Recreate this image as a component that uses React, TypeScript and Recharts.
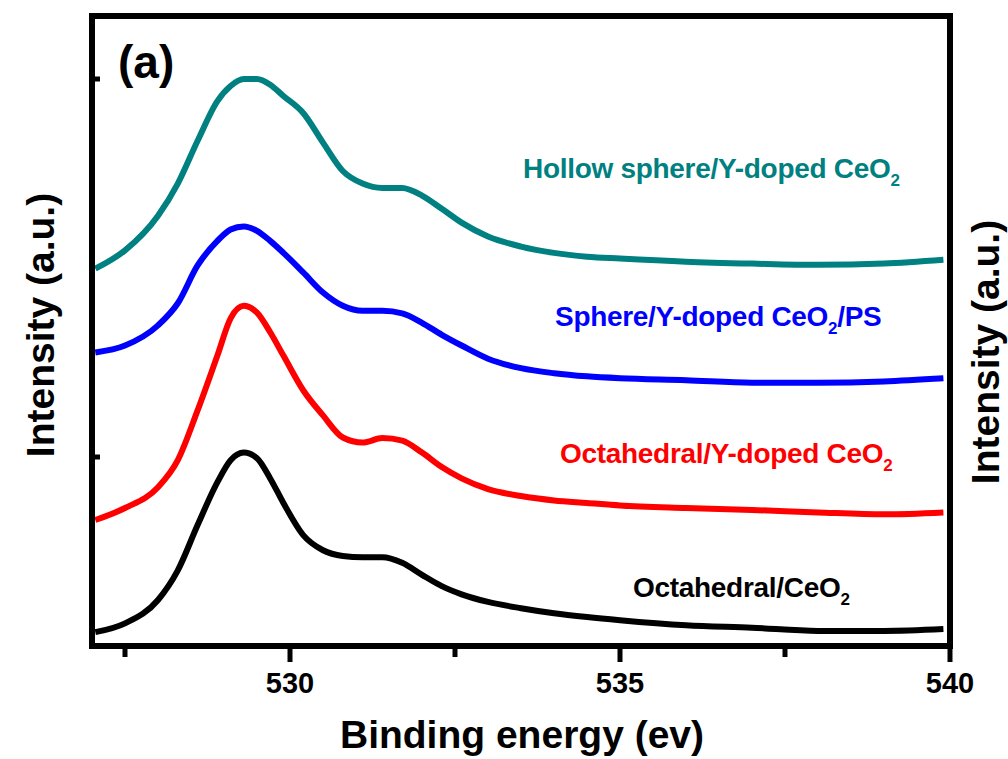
import React from 'react'
import { LineChart, Line, XAxis, YAxis } from 'recharts'

// binding energy (eV) sample points
const energy = [527.05, 527.5, 528.0, 528.3, 528.6, 528.9, 529.1, 529.3, 529.5, 529.7, 529.9, 530.2, 530.5, 530.8, 531.1, 531.4, 531.7, 532.0, 532.3, 532.6, 533.0, 533.5, 534.0, 534.5, 535.0, 536.0, 537.0, 538.0, 539.0, 539.9]

// intensities, stacked (a.u.)
const hollowSphere = [59.9, 62.8, 68.3, 73.4, 80.2, 86.5, 88.9, 90.0, 90.0, 89.1, 87.3, 84.6, 79.9, 75.4, 73.4, 72.7, 72.7, 71.5, 69.4, 67.2, 65.0, 63.4, 62.4, 61.8, 61.5, 61.0, 60.7, 60.5, 60.7, 61.3]
const spherePS = [46.6, 47.7, 50.9, 54.4, 60.4, 64.3, 66.1, 66.6, 65.9, 64.3, 62.4, 59.3, 56.1, 54.0, 53.2, 53.2, 52.8, 51.3, 49.4, 47.7, 45.6, 44.1, 43.3, 42.8, 42.5, 42.2, 41.8, 41.8, 42.0, 42.5]
const octaYDoped = [20.0, 21.9, 25.2, 29.5, 37.4, 46.1, 52.0, 54.0, 52.9, 49.8, 46.1, 40.6, 36.6, 33.1, 32.3, 33.0, 32.6, 30.7, 28.4, 26.6, 24.9, 23.8, 23.1, 22.7, 22.3, 21.9, 21.6, 21.2, 20.9, 21.2]
const octaCeO2 = [2.2, 3.6, 7.3, 12.0, 19.2, 26.0, 29.5, 30.7, 29.8, 26.6, 22.7, 17.6, 15.2, 14.3, 14.1, 14.1, 13.2, 11.3, 9.5, 8.2, 7.0, 6.0, 5.2, 4.6, 4.1, 3.3, 2.9, 2.4, 2.4, 2.7]

const xTicks = [527.5, 530, 532.5, 535, 537.5, 540]
const xLabels = [530, 535, 540]
const yTicks = [30, 90]

const data = energy.map((x, i) => ({
  x,
  hollow: hollowSphere[i],
  sphere: spherePS[i],
  octaY: octaYDoped[i],
  octa: octaCeO2[i],
}))

const FONT = "'Liberation Sans', Arial, Helvetica, sans-serif"

const XTick = (props: any) => {
  const { x, y, payload } = props
  const major = xLabels.includes(payload.value)
  return (
    <g>
      <line x1={x} x2={x} y1={y + 2} y2={y + (major ? 16 : 11)} stroke="#000" strokeWidth={5} />
      {major && (
        <text x={x} y={y + 47} textAnchor="middle" fontFamily={FONT} fontWeight="bold" fontSize={29} fill="#000">
          {payload.value}
        </text>
      )}
    </g>
  )
}

const SeriesLabel: React.FC<{ x: number, y: number, color: string, main: string, rest?: string }> = ({ x, y, color, main, rest }) => (
  <text x={x} y={y} fontFamily={FONT} fontWeight="bold" fontSize={28} fill={color} letterSpacing={-0.3}>
    {main}
    <tspan fontSize={17} dy={8}>2</tspan>
    {rest && <tspan dy={-8}>{rest}</tspan>}
  </text>
)

export default function App() {
  const axisLine = { stroke: '#000', strokeWidth: 6, strokeLinecap: 'square' as const }
  return (
    <div style={{ position: 'absolute', left: 0, top: 0, width: 1008, height: 759, background: '#fff' }}>
      <LineChart width={1008} height={759} data={data} margin={{ top: 6, right: 48, bottom: 53, left: 92 }}>
        <XAxis dataKey="x" type="number" domain={[527, 540]} ticks={xTicks} height={60}
          axisLine={axisLine} tickLine={false} tickSize={0} tickMargin={0} tick={<XTick />} interval={0} />
        <XAxis xAxisId="top" dataKey="x" type="number" domain={[527, 540]} orientation="top" height={10}
          axisLine={axisLine} tick={false} tickLine={false} />
        <YAxis yAxisId="left" type="number" domain={[0, 100]} ticks={yTicks} width={10} mirror
          axisLine={axisLine} tickSize={8} tickLine={{ stroke: '#000', strokeWidth: 5 }} tickFormatter={() => ''} />
        <YAxis yAxisId="right" orientation="right" type="number" domain={[0, 100]} width={10}
          axisLine={axisLine} tick={false} tickLine={false} />
        <Line yAxisId="left" type="monotone" dataKey="hollow" stroke="#008080" strokeWidth={6} dot={false} isAnimationActive={false} />
        <Line yAxisId="left" type="monotone" dataKey="sphere" stroke="#0000ff" strokeWidth={6} dot={false} isAnimationActive={false} />
        <Line yAxisId="left" type="monotone" dataKey="octaY" stroke="#ff0000" strokeWidth={6} dot={false} isAnimationActive={false} />
        <Line yAxisId="left" type="monotone" dataKey="octa" stroke="#000000" strokeWidth={6} dot={false} isAnimationActive={false} />
      </LineChart>
      <svg width={1008} height={759} style={{ position: 'absolute', left: 0, top: 0, pointerEvents: 'none' }}>
        <text x={118} y={78} fontFamily={FONT} fontWeight="bold" fontSize={46} fill="#000">(a)</text>
        <SeriesLabel x={523} y={178} color="#008080" main="Hollow sphere/Y-doped CeO" />
        <SeriesLabel x={555} y={326} color="#0000ff" main="Sphere/Y-doped CeO" rest="/PS" />
        <SeriesLabel x={560} y={463} color="#ff0000" main="Octahedral/Y-doped CeO" />
        <SeriesLabel x={633} y={597} color="#000000" main="Octahedral/CeO" />
        <text x={522} y={748} textAnchor="middle" fontFamily={FONT} fontWeight="bold" fontSize={39} fill="#000">Binding energy (ev)</text>
        <text transform="translate(54 325) rotate(-90)" textAnchor="middle" fontFamily={FONT} fontWeight="bold" fontSize={39} fill="#000">Intensity (a.u.)</text>
        <text transform="translate(999 352) rotate(-90)" textAnchor="middle" fontFamily={FONT} fontWeight="bold" fontSize={39} fill="#000">Intensity (a.u.)</text>
      </svg>
    </div>
  )
}
